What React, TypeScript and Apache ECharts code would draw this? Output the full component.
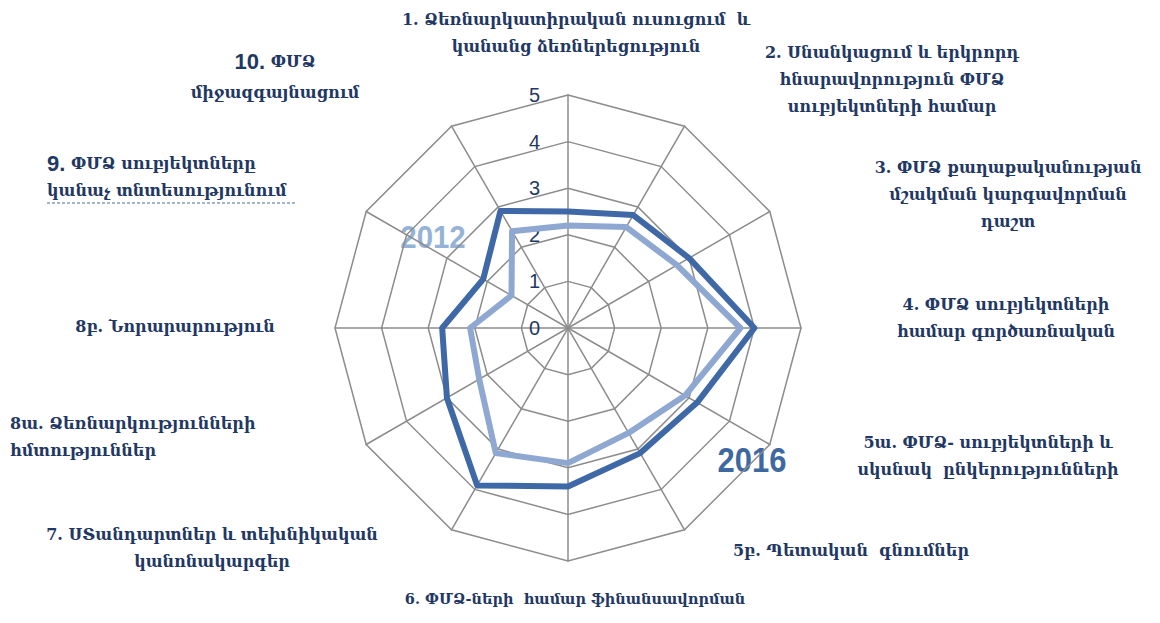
import React, { useEffect, useRef } from "react";
import * as echarts from "echarts";

const categories = ["1", "2", "3", "4", "5ա", "5բ", "6", "7", "8ա", "8բ", "9", "10"];
const values2016 = [2.5, 2.8, 3.0, 4.0, 3.2, 3.1, 3.4, 3.9, 3.0, 2.7, 2.1, 2.9];
const values2012 = [2.2, 2.5, 2.7, 3.7, 2.9, 2.6, 2.9, 3.1, 2.2, 2.1, 1.4, 2.4];
const tickMax = 5;
const seriesNames = ["2012", "2016"];

const NAVY = "#1f3864";
const FONT = "'DejaVu Serif', 'DejaVu Sans', serif";

export default function App() {
  const ref = useRef<HTMLDivElement>(null);
  useEffect(() => {
    if (!ref.current) return;
    const chart = echarts.init(ref.current, undefined, { renderer: "svg" });
    // ECharts places radar indicators counter-clockwise; reorder so they run clockwise
    const order = [0, ...Array.from({ length: categories.length - 1 }, (_, i) => categories.length - 1 - i)];
    const indicator = order.map((i) => ({ name: categories[i], min: 0, max: tickMax }));
    const reorder = (arr: number[]) => order.map((i) => arr[i]);

    const txt = (x: number, y: number, text: string, opts: any = {}, el: any = {}) => ({
      type: "text",
      x,
      y,
      ...el,
      style: {
        text,
        fill: NAVY,
        font: `bold 16px ${FONT}`,
        textAlign: "center",
        textVerticalAlign: "middle",
        lineHeight: 27,
        ...opts,
      },
    });

    chart.setOption({
      animation: false,
      radar: {
        center: [568, 328],
        radius: 233,
        startAngle: 90,
        shape: "polygon",
        splitNumber: 5,
        indicator,
        axisName: { show: false },
        splitArea: { show: false },
        splitLine: { lineStyle: { color: "#8c8c8c", width: 1.5 } },
        axisLine: { lineStyle: { color: "#8c8c8c", width: 1.5 } },
        axisTick: { show: false },
        axisLabel: { show: false },
      },
      polar: { center: [568, 328], radius: 233 },
      angleAxis: { show: false, startAngle: 90 },
      radiusAxis: {
        min: 0,
        max: tickMax,
        interval: 1,
        axisLine: { show: false },
        axisTick: { show: false },
        splitLine: { show: false },
        axisLabel: { color: NAVY, fontSize: 20, fontFamily: "'Liberation Sans', sans-serif", margin: 28 },
      },
      series: [
        {
          type: "radar",
          name: seriesNames[0],
          symbol: "none",
          lineStyle: { color: "#8fa8d2", width: 6 },
          data: [{ value: reorder(values2012), name: seriesNames[0] }],
          z: 3,
        },
        {
          type: "radar",
          name: seriesNames[1],
          symbol: "none",
          lineStyle: { color: "#3f69a6", width: 6 },
          data: [{ value: reorder(values2016), name: seriesNames[1] }],
          z: 4,
        },
      ],
      graphic: [
        txt(576, 33, "1. Ձեռնարկատիրական ուսուցում  և\nկանանց ձեռներեցություն"),
        txt(892, 79, "2. Սնանկացում և երկրորդ\nհնարավորություն ՓՄՁ\nսուբյեկտների համար"),
        txt(1008, 194, "3. ՓՄՁ քաղաքականության\nմշակման կարգավորման\nդաշտ"),
        txt(1006, 318, "4. ՓՄՁ սուբյեկտների\nհամար գործառնական"),
        txt(988, 456, "5ա. ՓՄՁ- սուբյեկտների և\nսկսնակ  ընկերությունների"),
        txt(851, 550, "5բ. Պետական  գնումներ"),
        txt(575, 598, "6. ՓՄՁ-ների  համար ֆինանսավորման", { font: `bold 14.5px ${FONT}` }),
        txt(212, 548, "7. ՍՏանդարտներ և տեխնիկական\nկանոնակարգեր"),
        txt(10, 437, "8ա. Ձեռնարկությունների\nհմտություններ", { textAlign: "left" }),
        txt(175, 326, "8բ. Նորարարություն"),
        {
          type: "text",
          x: 47,
          y: 177,
          style: {
            text: "{b|9.} ՓՄՁ սուբյեկտները\nկանաչ տնտեսությունում",
            fill: NAVY,
            font: `bold 16px ${FONT}`,
            textAlign: "left",
            textVerticalAlign: "middle",
            lineHeight: 27,
            rich: { b: { font: `bold 22px 'Liberation Sans', sans-serif`, fill: NAVY } },
          },
        },
        {
          type: "line",
          shape: { x1: 47, y1: 203, x2: 297, y2: 203 },
          style: { stroke: "#4a6a9a", lineWidth: 1.2, lineDash: [3, 2] },
        },
        {
          type: "text",
          x: 275,
          y: 77,
          style: {
            text: "{b|10.} ՓՄՁ\nմիջազգայնացում",
            fill: NAVY,
            font: `bold 16px ${FONT}`,
            textAlign: "center",
            textVerticalAlign: "middle",
            lineHeight: 31,
            rich: { b: { font: `bold 22px 'Liberation Sans', sans-serif`, fill: NAVY } },
          },
        },
        txt(
          433,
          237,
          seriesNames[0],
          { fill: "#95b3d7", font: "bold 32px 'Liberation Sans Narrow', 'Liberation Sans', sans-serif" },
          { scaleX: 0.92 }
        ),
        txt(
          752,
          460,
          seriesNames[1],
          { fill: "#3d68a0", font: "bold 36px 'Liberation Sans Narrow', 'Liberation Sans', sans-serif" },
          { scaleX: 0.86 }
        ),
      ],
    });
    return () => chart.dispose();
  }, []);
  return (
    <div
      ref={ref}
      style={{ position: "fixed", left: 0, top: 0, width: 1160, height: 623, background: "#fff" }}
    />
  );
}
